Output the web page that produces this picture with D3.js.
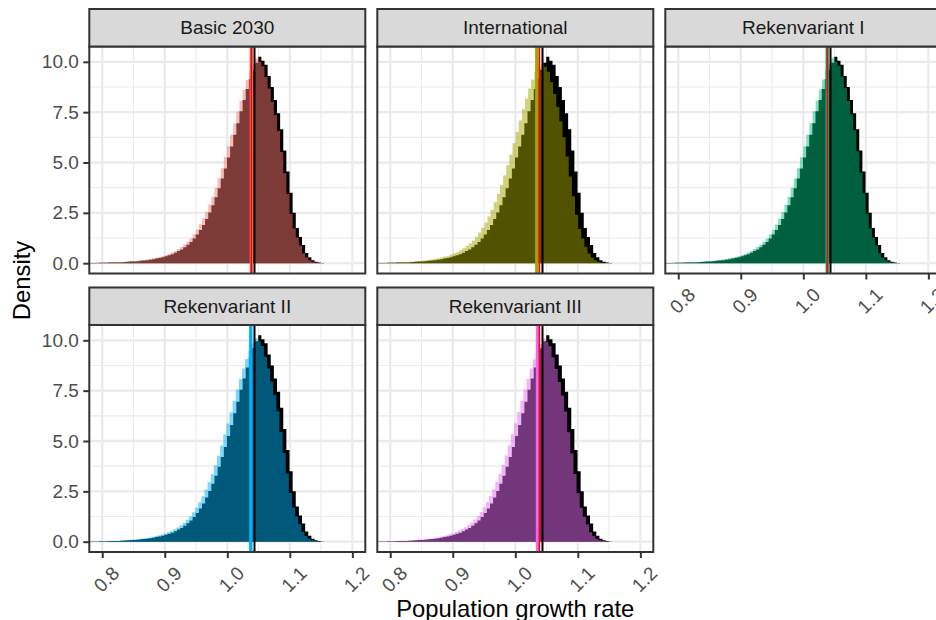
<!DOCTYPE html>
<html><head><meta charset="utf-8">
<script src="https://cdn.jsdelivr.net/npm/d3@7"></script>
<style>body{margin:0;background:#fff} svg{display:block;font-family:"Liberation Sans",Arial,sans-serif}</style>
</head><body><svg id="c" width="936" height="620"></svg>
<script>
// ---------------- data ----------------
const categories = ["Basic 2030", "International", "Rekenvariant I", "Rekenvariant II", "Rekenvariant III"];
const binWidth = 0.005;
const baselineStart = 0.7795;
const scenarioStart = [0.7745, 0.7705, 0.7748, 0.7735, 0.7730];
const baselineDensity = [0.01,0.01,0.01,0.02,0.02,0.02,0.03,0.03,0.04,0.04,
 0.05,0.06,0.07,0.08,0.09,0.10,0.12,0.13,0.15,0.17,
 0.20,0.23,0.26,0.30,0.34,0.39,0.45,0.52,0.60,0.68,
 0.79,0.91,1.05,1.22,1.42,1.65,1.90,2.20,2.52,2.88,
 3.28,3.72,4.20,4.70,5.25,5.80,6.38,6.95,7.55,8.10,
 8.65,9.15,9.60,9.95,10.25,10.05,9.85,9.30,8.75,8.10,
 7.45,6.65,5.60,4.55,3.50,2.50,1.75,1.30,0.90,0.50,
 0.30,0.15,0.07,0.03,0.01];
const basicDensity = [0.01,0.01,0.02,0.02,0.02,0.02,0.03,0.03,0.04,0.04,
 0.05,0.06,0.07,0.08,0.09,0.11,0.12,0.14,0.16,0.18,
 0.21,0.24,0.27,0.31,0.35,0.40,0.46,0.53,0.61,0.70,
 0.81,0.93,1.07,1.24,1.44,1.67,1.93,2.23,2.55,2.91,
 3.31,3.75,4.22,4.72,5.26,5.81,6.38,6.94,7.52,8.06,
 8.60,9.10,9.55,9.90,10.18,10.00,9.78,9.25,8.68,8.02,
 7.36,6.56,5.52,4.47,3.44,2.46,1.72,1.27,0.88,0.49,
 0.29,0.15,0.07,0.03,0.01];
const internationalDensity = [0.01,0.01,0.02,0.02,0.02,0.03,0.03,0.03,0.04,0.05,
 0.05,0.06,0.07,0.08,0.10,0.11,0.13,0.14,0.16,0.19,
 0.22,0.25,0.29,0.33,0.37,0.43,0.49,0.56,0.65,0.74,
 0.85,0.98,1.13,1.31,1.52,1.76,2.02,2.32,2.65,3.02,
 3.43,3.88,4.36,4.87,5.40,5.95,6.52,7.08,7.65,8.18,
 8.68,9.12,9.50,9.78,9.90,9.75,9.50,8.98,8.40,7.75,
 7.05,6.25,5.30,4.30,3.32,2.40,1.70,1.22,0.82,0.48,
 0.28,0.14,0.07,0.03,0.01];
const rekenvariantIDensity = [0.01,0.01,0.01,0.02,0.02,0.02,0.03,0.03,0.04,0.04,
 0.05,0.06,0.07,0.08,0.09,0.10,0.12,0.14,0.16,0.18,
 0.21,0.24,0.27,0.31,0.35,0.40,0.46,0.53,0.61,0.70,
 0.80,0.92,1.06,1.23,1.43,1.66,1.92,2.22,2.54,2.90,
 3.30,3.74,4.21,4.71,5.26,5.81,6.38,6.95,7.53,8.08,
 8.62,9.12,9.57,9.92,10.20,10.02,9.80,9.27,8.70,8.05,
 7.40,6.60,5.56,4.50,3.46,2.47,1.73,1.28,0.89,0.49,
 0.29,0.15,0.07,0.03,0.01];
const rekenvariantIIDensity = [0.01,0.01,0.02,0.02,0.02,0.03,0.03,0.03,0.04,0.05,
 0.05,0.06,0.07,0.08,0.10,0.11,0.12,0.14,0.16,0.18,
 0.21,0.24,0.28,0.32,0.36,0.41,0.47,0.54,0.62,0.71,
 0.82,0.94,1.09,1.26,1.46,1.70,1.96,2.26,2.59,2.95,
 3.36,3.80,4.27,4.78,5.32,5.87,6.43,6.99,7.55,8.08,
 8.60,9.07,9.50,9.84,10.12,9.95,9.72,9.18,8.60,7.95,
 7.28,6.48,5.45,4.40,3.38,2.42,1.70,1.25,0.86,0.48,
 0.28,0.14,0.07,0.03,0.01];
const rekenvariantIIIDensity = [0.01,0.01,0.02,0.02,0.02,0.03,0.03,0.04,0.04,0.05,
 0.05,0.06,0.07,0.09,0.10,0.11,0.13,0.14,0.16,0.19,
 0.21,0.25,0.28,0.32,0.37,0.42,0.48,0.55,0.63,0.72,
 0.83,0.95,1.10,1.27,1.47,1.71,1.97,2.27,2.60,2.96,
 3.37,3.81,4.28,4.79,5.33,5.88,6.44,7.00,7.56,8.09,
 8.60,9.06,9.48,9.82,10.10,9.93,9.70,9.16,8.58,7.93,
 7.26,6.46,5.43,4.38,3.36,2.40,1.69,1.24,0.85,0.47,
 0.28,0.14,0.07,0.03,0.01];
const scenarioDensity = [basicDensity, internationalDensity, rekenvariantIDensity, rekenvariantIIDensity, rekenvariantIIIDensity];
const scenarioMean = [1.0385, 1.0344, 1.0382, 1.0376, 1.0355];
const redLine = [1.0385, 1.0385, 1.0385, null, 1.0385];
const baselineMean = 1.0435;
const hueColors = ["#F8766D", "#A3A500", "#00BF7D", "#00B0F6", "#E76BF3"];
const xTicks = [0.8, 0.9, 1.0, 1.1, 1.2];
const xMinor = [0.85, 0.95, 1.05, 1.15];
const yTicks = [0, 2.5, 5, 7.5, 10];
const yMinor = [1.25, 3.75, 6.25, 8.75];

// ---------------- layout ----------------
const svg = d3.select("#c");
const colX = [89.3, 377.3, 665.3], panelW = 276, panelH = 227, stripH = 37.5;
const rowTop = [46.5, 325];
const x = d3.scaleLinear().domain([0.7793, 1.2207]).range([0, panelW]);
const y = d3.scaleLinear().domain([-0.512, 10.76]).range([panelH, 0]);
const fmt = d3.format(".1f");

const area = d3.area().curve(d3.curveStepAfter).x(d => x(d[0])).y0(y(0)).y1(d => y(d[1]));
function histPoints(start, vals) {
  const pts = vals.map((v, k) => [start + k * binWidth, v]);
  pts.push([start + vals.length * binWidth, vals[vals.length - 1]]);
  return pts;
}

categories.forEach((cat, i) => {
  const col = i % 3, row = Math.floor(i / 3);
  const g = svg.append("g").attr("transform", `translate(${colX[col]},${rowTop[row]})`);
  g.append("rect").attr("width", panelW).attr("height", panelH).attr("fill", "#fff");
  // grid
  const grid = g.append("g").attr("stroke", "#ebebeb");
  xMinor.forEach(v => grid.append("line").attr("x1", x(v)).attr("x2", x(v)).attr("y1", 0).attr("y2", panelH).attr("stroke-width", 1.15));
  yMinor.forEach(v => grid.append("line").attr("y1", y(v)).attr("y2", y(v)).attr("x1", 0).attr("x2", panelW).attr("stroke-width", 1.15));
  xTicks.forEach(v => grid.append("line").attr("x1", x(v)).attr("x2", x(v)).attr("y1", 0).attr("y2", panelH).attr("stroke-width", 2.3));
  yTicks.forEach(v => grid.append("line").attr("y1", y(v)).attr("y2", y(v)).attr("x1", 0).attr("x2", panelW).attr("stroke-width", 2.3));

  const cid = "clip" + i;
  g.append("clipPath").attr("id", cid).append("rect").attr("width", panelW).attr("height", panelH);
  const data = g.append("g").attr("clip-path", `url(#${cid})`);
  data.append("path").attr("d", area(histPoints(baselineStart, baselineDensity))).attr("fill", "#000");
  data.append("path").attr("d", area(histPoints(scenarioStart[i], scenarioDensity[i])))
    .attr("fill", hueColors[i]).attr("fill-opacity", 0.5);
  // vertical lines
  const vl = (v, c, w) => data.append("line").attr("x1", x(v)).attr("x2", x(v)).attr("y1", 0).attr("y2", panelH)
    .attr("stroke", c).attr("stroke-width", w);
  vl(scenarioMean[i], hueColors[i], 3.4);
  if (redLine[i] != null) vl(redLine[i], "#ff0000", 1.6);
  vl(baselineMean, "#000", 2);

  g.append("rect").attr("width", panelW).attr("height", panelH).attr("fill", "none")
    .attr("stroke", "#333333").attr("stroke-width", 2);

  // strip
  g.append("rect").attr("y", -stripH).attr("width", panelW).attr("height", stripH)
    .attr("fill", "#d9d9d9").attr("stroke", "#333333").attr("stroke-width", 2);
  g.append("text").attr("x", panelW / 2).attr("y", -stripH / 2).attr("dy", "0.35em")
    .attr("text-anchor", "middle").attr("font-size", 19).attr("fill", "#1a1a1a").text(cat);

  // axes
  if (col === 0) {
    const ax = g.append("g").call(d3.axisLeft(y).tickValues(yTicks).tickFormat(fmt).tickSize(6).tickPadding(4.5));
    ax.select(".domain").remove();
    ax.selectAll("line").attr("stroke", "#333333").attr("stroke-width", 2);
    ax.selectAll("text").attr("font-size", 19).attr("fill", "#4d4d4d").attr("font-family", "Liberation Sans, Arial, sans-serif");
  }
  if (row === 1 || col === 2) {
    const ax = g.append("g").attr("transform", `translate(0,${panelH})`)
      .call(d3.axisBottom(x).tickValues(xTicks).tickFormat(fmt).tickSize(6).tickPadding(4.5));
    ax.select(".domain").remove();
    ax.selectAll("line").attr("stroke", "#333333").attr("stroke-width", 2);
    ax.selectAll("text").attr("font-size", 19).attr("fill", "#4d4d4d").attr("font-family", "Liberation Sans, Arial, sans-serif")
      .attr("text-anchor", "end").attr("dy", null).attr("y", null)
      .attr("transform", "translate(8,13) rotate(-45)").attr("dominant-baseline", "hanging");
  }
});

svg.append("text").attr("transform", `translate(30,${(9 + 552) / 2}) rotate(-90)`)
  .attr("text-anchor", "middle").attr("font-size", 23.8).attr("fill", "#000").text("Density");
svg.append("text").attr("x", (89.3 + 941.3) / 2).attr("y", 617)
  .attr("text-anchor", "middle").attr("font-size", 23.8).attr("fill", "#000").text("Population growth rate");
</script></body></html>
